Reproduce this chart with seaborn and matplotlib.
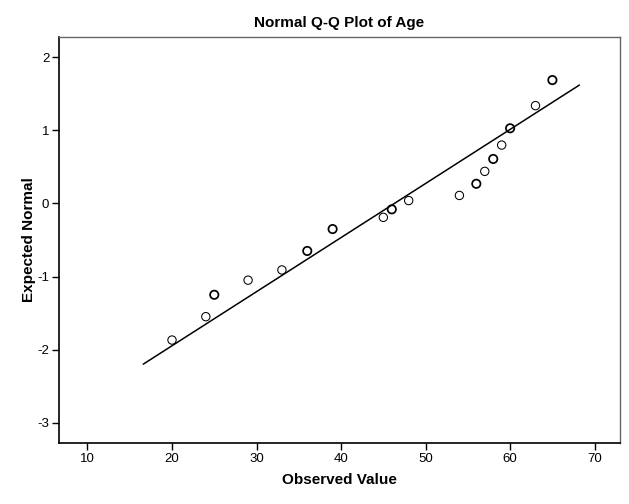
import matplotlib
matplotlib.use("Agg")
import matplotlib.pyplot as plt
import seaborn as sns
import numpy as np
import pandas as pd

# Data
observed = [20, 24, 25, 29, 33, 36, 39, 45, 46, 48, 54, 56, 57, 58, 59, 60, 63, 65]
expected = [-1.87, -1.55, -1.25, -1.05, -0.91, -0.65, -0.35, -0.19, -0.08, 0.04,
            0.11, 0.27, 0.44, 0.61, 0.80, 1.03, 1.34, 1.69]
counts = [1, 1, 2, 1, 1, 2, 2, 1, 2, 1, 1, 2, 1, 2, 1, 2, 1, 2]
# Reference line (normal with sample mean / sd)
line_x = [16.6, 68.2]
mean_age = 46.3
sd_age = 13.5

xticks = [10, 20, 30, 40, 50, 60, 70]
yticks = [-3, -2, -1, 0, 1, 2]

sns.set_style("white")
plt.rcParams['font.family'] = ['Liberation Sans', 'DejaVu Sans']
plt.rcParams['text.color'] = 'black'
plt.rcParams['axes.labelcolor'] = 'black'
plt.rcParams['xtick.color'] = 'black'
plt.rcParams['ytick.color'] = 'black'

df = pd.DataFrame({"Observed Value": observed, "Expected Normal": expected, "n": counts})
line_df = pd.DataFrame({"x": line_x, "y": [(v - mean_age) / sd_age for v in line_x]})

fig = plt.figure(figsize=(6.29, 5.04), dpi=100)
ax = fig.add_axes([0.0938, 0.121, 0.8919, 0.8056])

sns.lineplot(data=line_df, x="x", y="y", ax=ax, color="black", linewidth=1.1, zorder=2)
for cnt, lw in [(1, 0.75), (2, 1.25)]:
    sub = df[df["n"] == cnt]
    sns.scatterplot(data=sub, x="Observed Value", y="Expected Normal", ax=ax,
                    marker="o", s=36, facecolor="none", edgecolor="black",
                    linewidth=lw, zorder=3)

ax.set_xlim(6.63, 73.0)
ax.set_ylim(-3.28, 2.28)
ax.set_xticks(xticks)
ax.set_yticks(yticks)
ax.set_xticklabels([str(t) for t in xticks], fontsize=9.5)
ax.set_yticklabels([str(t) for t in yticks], fontsize=9.5)
ax.tick_params(axis="both", direction="out", length=5, width=1, color="black",
               labelcolor="black", bottom=True, left=True, pad=2)

for side in ["left", "bottom"]:
    ax.spines[side].set_color("black")
    ax.spines[side].set_linewidth(1.2)
for side in ["top", "right"]:
    ax.spines[side].set_color("#666666")
    ax.spines[side].set_linewidth(1.0)

ax.set_xlabel("Observed Value", fontsize=11, fontweight="bold", labelpad=6, color="black")
ax.set_ylabel("Expected Normal", fontsize=11, fontweight="bold", labelpad=1, color="black")
ax.set_title("Normal Q-Q Plot of Age", fontsize=11, fontweight="bold", pad=7, color="black")

fig.savefig("out.png", dpi=100)
